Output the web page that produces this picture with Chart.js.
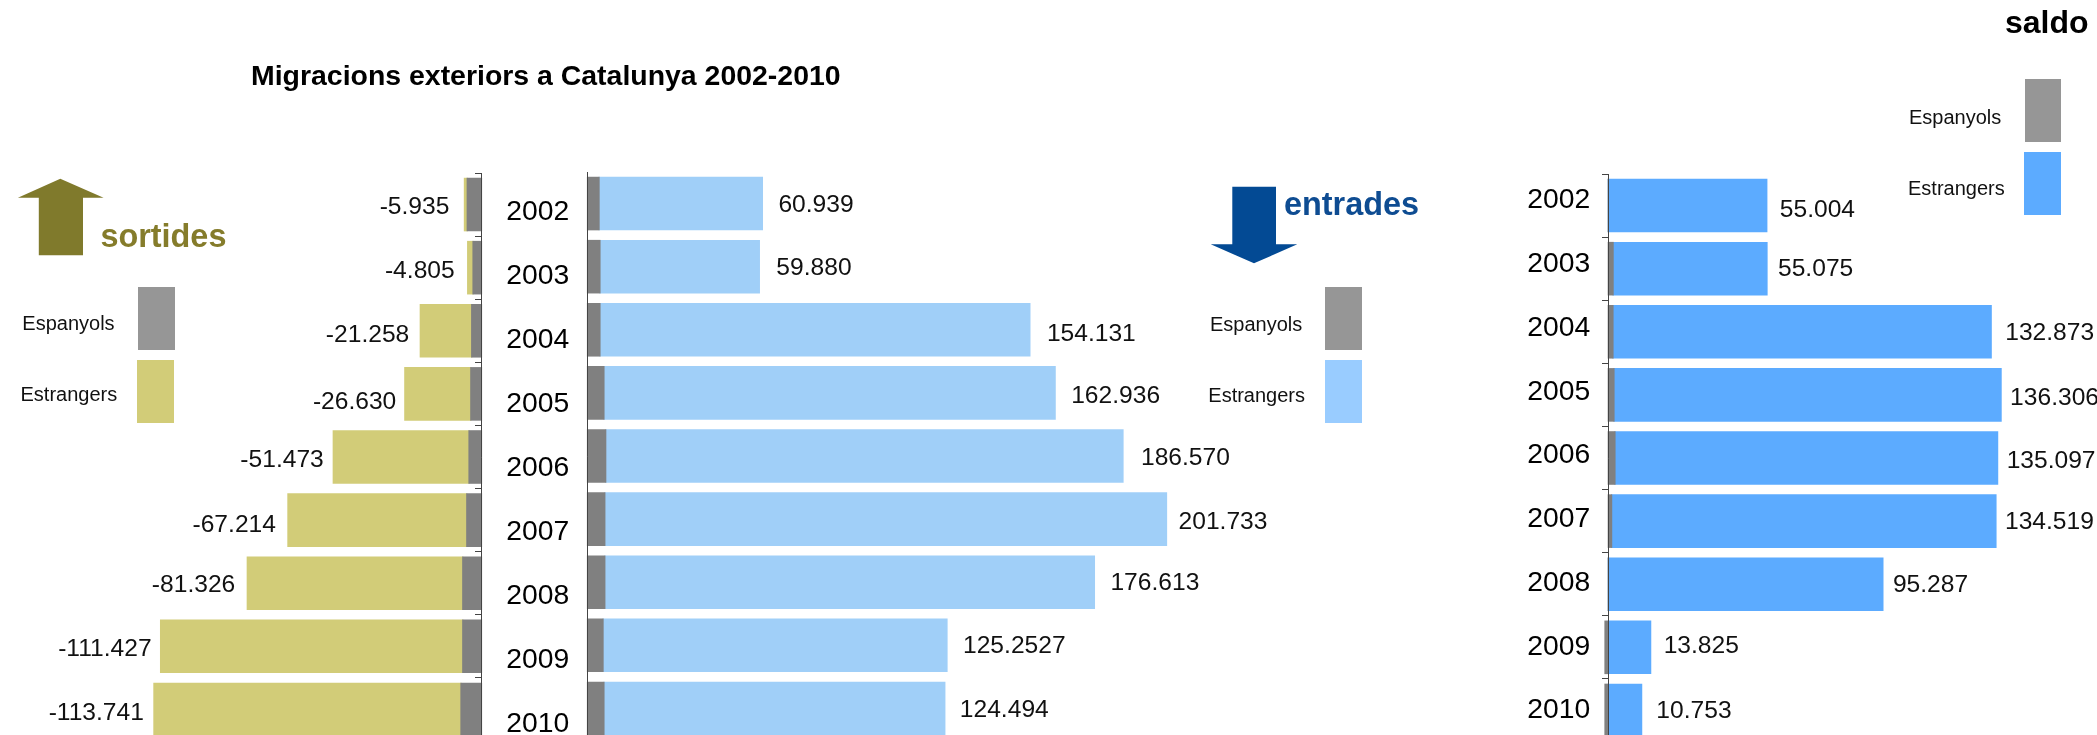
<!DOCTYPE html>
<html>
<head>
<meta charset="utf-8">
<title>Migracions exteriors a Catalunya 2002-2010</title>
<script src="https://cdn.jsdelivr.net/npm/chart.js@4"></script>
<style>
    html, body { margin: 0; padding: 0; background: #fff; }
    body { position: relative; width: 2097px; height: 735px; overflow: hidden; font-family: "Liberation Sans", Arial, sans-serif; color: #000; }
    canvas { position: absolute; }
    svg { position: absolute; left: 0; top: 0; }
    .txt { position: absolute; white-space: nowrap; line-height: 1; transform: translateY(-50%); }
    .leg { font-size: 20px; color: #111; }
    .head { font-size: 32.4px; font-weight: bold; }
    .swatch { position: absolute; }
    #sortidesChart { left: 0; top: 173px; }
    #entradesChart { left: 490px; top: 172px; }
    #saldoChart { left: 1500px; top: 174px; }
</style>
</head>
<body>
<canvas id="sortidesChart" width="490" height="568"></canvas>
<canvas id="entradesChart" width="800" height="568"></canvas>
<canvas id="saldoChart" width="597" height="568"></canvas>

<svg width="2097" height="735">
    <polygon points="60.3,178.7 103.6,197.7 83,197.7 83,255.3 38.8,255.3 38.8,197.7 17.9,197.7" fill="#807a2c"/>
    <polygon points="1232.3,186.7 1276,186.7 1276,244.3 1297.3,244.3 1254,263.3 1210.7,244.3 1232.3,244.3" fill="#034a94"/>
</svg>

<div class="txt" style="left:251px;top:75px;font-size:28.45px;font-weight:bold">Migracions exteriors a Catalunya 2002-2010</div>
<div class="txt" style="left:2005px;top:22px;font-size:32px;font-weight:bold">saldo</div>
<div class="txt head" style="left:100.4px;top:236px;color:#857c2b">sortides</div>
<div class="txt head" style="left:1284px;top:204px;color:#0e4c92">entrades</div>

<div class="txt leg" style="left:22.3px;top:323px">Espanyols</div>
<div class="txt leg" style="left:20.5px;top:394px">Estrangers</div>
<div class="swatch" style="left:138px;top:287px;width:37px;height:63px;background:#969696"></div>
<div class="swatch" style="left:137px;top:360px;width:37px;height:63px;background:#d2cc78"></div>

<div class="txt leg" style="left:1210px;top:324px">Espanyols</div>
<div class="txt leg" style="left:1208.3px;top:395px">Estrangers</div>
<div class="swatch" style="left:1325px;top:287px;width:37px;height:63px;background:#969696"></div>
<div class="swatch" style="left:1325px;top:360px;width:37px;height:63px;background:#99ccff"></div>

<div class="txt leg" style="left:1909px;top:116.7px">Espanyols</div>
<div class="txt leg" style="left:1908px;top:187.7px">Estrangers</div>
<div class="swatch" style="left:2025px;top:79px;width:36px;height:63px;background:#969696"></div>
<div class="swatch" style="left:2024px;top:152px;width:37px;height:63px;background:#5cabff"></div>

<script>
const years = ['2002', '2003', '2004', '2005', '2006', '2007', '2008', '2009', '2010'];

const sortidesEspanyols = [-4960, -2945, -3410, -3720, -4340, -5115, -6510, -6510, -7130];
const sortidesEstrangers = [-975, -1860, -17848, -22910, -47133, -62099, -74816, -104917, -106611];
const sortidesLabels = ['-5.935', '-4.805', '-21.258', '-26.630', '-51.473', '-67.214', '-81.326', '-111.427', '-113.741'];

const entradesEspanyols = [4030, 4340, 4340, 5730, 6350, 6040, 6040, 5420, 5730];
const entradesEstrangers = [56909, 55540, 149791, 157206, 180220, 195693, 170573, 119833, 118764];
const entradesLabels = ['60.939', '59.880', '154.131', '162.936', '186.570', '201.733', '176.613', '125.2527', '124.494'];

const saldoEspanyols = [0, 1670, 1620, 1970, 2310, 1150, 0, -1150, -1150];
const saldoEstrangers = [55004, 53405, 131253, 134336, 132787, 133369, 95287, 14700, 11570];
const saldoLabels = ['55.004', '55.075', '132.873', '136.306', '135.097', '134.519', '95.287', '13.825', '10.753'];

// small per-row nudges, the labels in the original were placed by hand
const sortidesGap = [15, 13, 11, 8.5, 9.5, 12, 12, 9, 10];
const sortidesDy = [2.5, 4, 4.5, 8, 3, 4.8, 2.3, 3.2, 3.7];
const entradesGap = [16, 17, 17, 16, 18, 12, 16, 16, 15];
const entradesDy = [2, 2, 4, 3.7, 2.3, 3.2, 1, 1.3, 2];
const saldoGap = [13, 11, 14, 9, 9, 9, 10, 13, 14.7];
const saldoDy = [4.5, 1, 1, 3, 3, 1.5, 1, -1.5, 1];

const grey = '#808080';
const font = '"Liberation Sans", Arial, sans-serif';

// draws the hand placed value labels and the year labels
const rowLabels = {
    id: 'rowLabels',
    afterDatasetsDraw(chart, args, opts) {
        const ctx = chart.ctx;
        const ends = chart.getDatasetMeta(1).data;
        const yScale = chart.scales.y;
        ctx.save();
        ctx.fillStyle = '#111';
        ctx.textBaseline = 'middle';
        ctx.font = '24.6px ' + font;
        ctx.textAlign = opts.side === 'left' ? 'right' : 'left';
        opts.labels.forEach((text, i) => {
            const x = ends[i].x + (opts.side === 'left' ? -opts.gap[i] : opts.gap[i]);
            ctx.fillText(text, x, ends[i].y + opts.dy[i]);
        });
        if (opts.yearX) {
            ctx.fillStyle = '#000';
            ctx.font = '28.3px ' + font;
            ctx.textAlign = 'center';
            years.forEach((year, i) => {
                ctx.fillText(year, opts.yearX, yScale.getPixelForValue(i) + opts.yearShift + i * opts.yearStep);
            });
        }
        ctx.restore();
    }
};

function makeChart(id, espanyols, estrangers, colour, zeroPx, unitsPerPx, tickLength, labelOpts) {
    const canvas = document.getElementById(id);
    return new Chart(canvas, {
        type: 'bar',
        data: {
            labels: years,
            datasets: [
                { label: 'Espanyols', data: espanyols, backgroundColor: grey, inflateAmount: 0.6 },
                { label: 'Estrangers', data: estrangers, backgroundColor: colour, inflateAmount: 0.6 }
            ]
        },
        options: {
            indexAxis: 'y',
            responsive: false,
            animation: false,
            devicePixelRatio: 1,
            barPercentage: 0.83,
            categoryPercentage: 1,
            layout: { padding: 0 },
            plugins: {
                legend: { display: false },
                tooltip: { enabled: false },
                rowLabels: labelOpts
            },
            scales: {
                x: {
                    display: false,
                    stacked: true,
                    min: -zeroPx * unitsPerPx,
                    max: (canvas.width - zeroPx) * unitsPerPx
                },
                y: {
                    stacked: true,
                    position: { x: 0 },
                    ticks: { display: false, autoSkip: false },
                    border: { color: '#444', width: 1, z: 1 },
                    grid: {
                        drawOnChartArea: false,
                        drawTicks: tickLength > 0,
                        tickLength: tickLength,
                        color: '#444'
                    }
                }
            }
        },
        plugins: [rowLabels]
    });
}

makeChart('sortidesChart', sortidesEspanyols, sortidesEstrangers, '#d2cc78', 481.5, 347.2, 6, {
    side: 'left', labels: sortidesLabels, gap: sortidesGap, dy: sortidesDy
});
makeChart('entradesChart', entradesEspanyols, entradesEstrangers, '#a0cff8', 97.5, 348.4, 0, {
    side: 'right', labels: entradesLabels, gap: entradesGap, dy: entradesDy,
    yearX: 47.7, yearShift: 8.5, yearStep: 0.9
});
makeChart('saldoChart', saldoEspanyols, saldoEstrangers, '#5cabff', 108.3, 347, 6, {
    side: 'right', labels: saldoLabels, gap: saldoGap, dy: saldoDy,
    yearX: 58.7, yearShift: -5, yearStep: 0.65
});
</script>
</body>
</html>
